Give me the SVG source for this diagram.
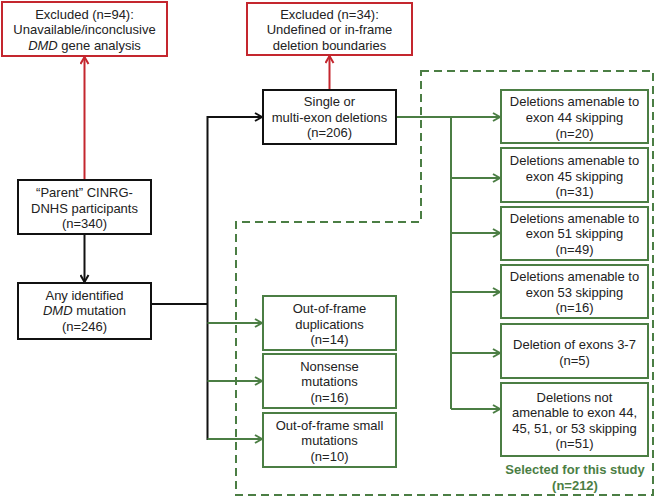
<svg xmlns="http://www.w3.org/2000/svg" width="656" height="498" viewBox="0 0 656 498">
<style>
  text { font-family: "Liberation Sans", Arial, sans-serif; font-size: 13px; fill: #222; text-anchor: middle; }
  .bk { fill: #fff; stroke: #111; stroke-width: 2; }
  .rd { fill: #fff; stroke: #c4262e; stroke-width: 2; }
  .gn { fill: #fff; stroke: #4b7e44; stroke-width: 2; }
  .lk { fill: none; stroke: #111; stroke-width: 2; }
  .lr { fill: none; stroke: #c4262e; stroke-width: 2; }
  .lg { fill: none; stroke: #4b7e44; stroke-width: 2; }
  .dash { fill: none; stroke: #4b7e44; stroke-width: 2; stroke-dasharray: 8 5; }
  .sel { font-weight: bold; fill: #4b7e44; }
</style>
<defs>
  <marker id="ak" viewBox="0 0 10 10" refX="9" refY="5" markerWidth="10" markerHeight="10" markerUnits="userSpaceOnUse" orient="auto">
    <path d="M2,1 L9,5 L2,9" fill="none" stroke="#111" stroke-width="2"/>
  </marker>
  <marker id="ar" viewBox="0 0 10 10" refX="9" refY="5" markerWidth="10" markerHeight="10" markerUnits="userSpaceOnUse" orient="auto">
    <path d="M2,1 L9,5 L2,9" fill="none" stroke="#c4262e" stroke-width="2"/>
  </marker>
  <marker id="ag" viewBox="0 0 10 10" refX="9" refY="5" markerWidth="10" markerHeight="10" markerUnits="userSpaceOnUse" orient="auto">
    <path d="M2,1 L9,5 L2,9" fill="none" stroke="#4b7e44" stroke-width="2"/>
  </marker>
</defs>

<g id="selection-region">
  <path class="dash" d="M421,71 L653,71 L653,495 L236,495 L236,222 L421,222 Z"/>
  <text class="sel" x="575" y="474">Selected for this study</text>
  <text class="sel" x="575" y="490">(n=212)</text>
</g>

<g id="connectors">
  <path class="lr" d="M84.5,180 L84.5,57" marker-end="url(#ar)"/>
  <path class="lr" d="M329.5,90 L329.5,56" marker-end="url(#ar)"/>
  <path class="lk" d="M84.5,234 L84.5,282" marker-end="url(#ak)"/>
  <path class="lk" d="M151,304 L207.5,304"/>
  <path class="lk" d="M207.5,440 L207.5,117 L262,117" marker-end="url(#ak)"/>
  <path class="lg" d="M207.5,323 L262,323" marker-end="url(#ag)"/>
  <path class="lg" d="M207.5,381 L262,381" marker-end="url(#ag)"/>
  <path class="lg" d="M207.5,439 L262,439" marker-end="url(#ag)"/>
  <path class="lg" d="M396,117 L500,117" marker-end="url(#ag)"/>
  <path class="lg" d="M451,117 L451,409"/>
  <path class="lg" d="M451,178 L500,178" marker-end="url(#ag)"/>
  <path class="lg" d="M451,233 L500,233" marker-end="url(#ag)"/>
  <path class="lg" d="M451,292 L500,292" marker-end="url(#ag)"/>
  <path class="lg" d="M451,353 L500,353" marker-end="url(#ag)"/>
  <path class="lg" d="M451,409 L500,409" marker-end="url(#ag)"/>
</g>

<g id="excluded-94">
  <rect class="rd" x="2" y="2" width="165" height="54"/>
  <text x="84.5" y="18.5">Excluded (n=94):</text>
  <text x="84.5" y="34">Unavailable/inconclusive</text>
  <text x="84.5" y="49.5"><tspan font-style="italic">DMD</tspan> gene analysis</text>
</g>

<g id="excluded-34">
  <rect class="rd" x="247" y="3" width="165" height="52"/>
  <text x="329.5" y="18.5">Excluded (n=34):</text>
  <text x="329.5" y="34">Undefined or in-frame</text>
  <text x="329.5" y="49.5">deletion boundaries</text>
</g>

<g id="parent">
  <rect class="bk" x="18" y="180" width="133" height="54"/>
  <text x="84.5" y="197">“Parent” CINRG-</text>
  <text x="84.5" y="212.5">DNHS participants</text>
  <text x="84.5" y="228">(n=340)</text>
</g>

<g id="any-mutation">
  <rect class="bk" x="18" y="283" width="133" height="56"/>
  <text x="84.5" y="299.5">Any identified</text>
  <text x="84.5" y="315"><tspan font-style="italic">DMD</tspan> mutation</text>
  <text x="84.5" y="331">(n=246)</text>
</g>

<g id="single-multi">
  <rect class="bk" x="263" y="90" width="133" height="54"/>
  <text x="329.5" y="105.5">Single or</text>
  <text x="329.5" y="121.5">multi-exon deletions</text>
  <text x="329.5" y="137">(n=206)</text>
</g>

<g id="duplications">
  <rect class="gn" x="263" y="296" width="133" height="54"/>
  <text x="329.5" y="313">Out-of-frame</text>
  <text x="329.5" y="328.5">duplications</text>
  <text x="329.5" y="344">(n=14)</text>
</g>

<g id="nonsense">
  <rect class="gn" x="263" y="354" width="133" height="54"/>
  <text x="329.5" y="370.5">Nonsense</text>
  <text x="329.5" y="386">mutations</text>
  <text x="329.5" y="401.5">(n=16)</text>
</g>

<g id="small-mutations">
  <rect class="gn" x="263" y="413" width="133" height="54"/>
  <text x="329.5" y="429.5">Out-of-frame small</text>
  <text x="329.5" y="445">mutations</text>
  <text x="329.5" y="460.5">(n=10)</text>
</g>

<g id="exon44">
  <rect class="gn" x="501" y="90" width="147" height="53"/>
  <text x="574.5" y="106">Deletions amenable to</text>
  <text x="574.5" y="122">exon 44 skipping</text>
  <text x="574.5" y="137.5">(n=20)</text>
</g>

<g id="exon45">
  <rect class="gn" x="501" y="148" width="147" height="54"/>
  <text x="574.5" y="164.5">Deletions amenable to</text>
  <text x="574.5" y="180.5">exon 45 skipping</text>
  <text x="574.5" y="196">(n=31)</text>
</g>

<g id="exon51">
  <rect class="gn" x="501" y="207" width="147" height="53"/>
  <text x="574.5" y="222.5">Deletions amenable to</text>
  <text x="574.5" y="238">exon 51 skipping</text>
  <text x="574.5" y="254">(n=49)</text>
</g>

<g id="exon53">
  <rect class="gn" x="501" y="265" width="147" height="53"/>
  <text x="574.5" y="281">Deletions amenable to</text>
  <text x="574.5" y="296.5">exon 53 skipping</text>
  <text x="574.5" y="312">(n=16)</text>
</g>

<g id="exons3-7">
  <rect class="gn" x="501" y="324" width="147" height="54"/>
  <text x="574.5" y="348.5">Deletion of exons 3-7</text>
  <text x="574.5" y="364.5">(n=5)</text>
</g>

<g id="not-amenable">
  <rect class="gn" x="501" y="383" width="147" height="73"/>
  <text x="574.5" y="401.5">Deletions not</text>
  <text x="574.5" y="417">amenable to exon 44,</text>
  <text x="574.5" y="432.5">45, 51, or 53 skipping</text>
  <text x="574.5" y="448">(n=51)</text>
</g>
</svg>
